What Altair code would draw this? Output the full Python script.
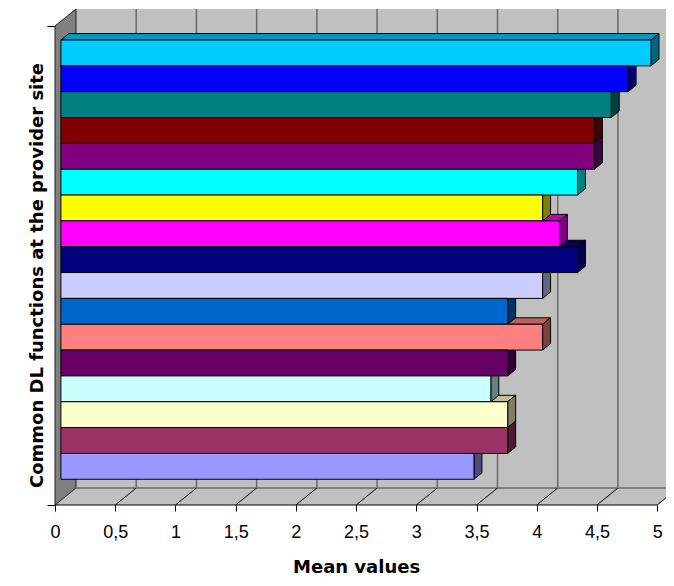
import altair as alt
import pandas as pd

# ---- data ----
categories = [f"Function {i}" for i in range(1, 18)]
values = [4.90, 4.71, 4.57, 4.43, 4.43, 4.29, 4.00, 4.14, 4.29,
          4.00, 3.71, 4.00, 3.71, 3.57, 3.71, 3.71, 3.43]
colors = ["#00CCFF", "#0000FF", "#008080", "#800000", "#800080", "#00FFFF",
          "#FFFF00", "#FF00FF", "#000080", "#CCCCFF", "#0066CC", "#FF8080",
          "#660066", "#CCFFFF", "#FFFFCC", "#993366", "#9999FF"]
x_ticks = [0, 0.5, 1, 1.5, 2, 2.5, 3, 3.5, 4, 4.5, 5]
x_title = "Mean values"
y_title = "Common DL functions at the provider site"

# ---- layout / 3D style constants ----
W, H = 611, 496
PX = 120.43              # px per value unit
XMAX = W / PX
DX = 21 / PX             # full depth offset (value units)
DY = 17                  # full depth offset (pixels, y units)
D1, D2 = 0.28, 0.66      # bar depth (front, back)
TOP = 465                # top of first bar (front face), y units
RH = 25.84               # row height
FRONT_TOP = H - DY


def shade(hx, f):
    return "#%02x%02x%02x" % tuple(int(int(hx[i:i + 2], 16) * f) for i in (1, 3, 5))


xs = alt.Scale(domain=[0, XMAX], nice=False, zero=False)
ys = alt.Scale(domain=[0, H], nice=False, zero=False)

# bars
rows, tops, sides = [], [], []
for i, (c, v, col) in enumerate(zip(categories, values, colors)):
    yt = TOP - i * RH
    yb = yt - RH
    rows.append(dict(cat=c, x0=D1 * DX, x1=v + D1 * DX, yt=yt, yb=yb, fill=col))
    for d in (D1, D2):
        off = (d - D1) * DY
        tops.append(dict(cat=c, y=yt + off, xl=d * DX, xr=v + d * DX, fill=shade(col, 0.75)))
        sides.append(dict(cat=c, x=v + d * DX, yt=yt + off, yb=yb + off, fill=shade(col, 0.5)))
bars = pd.DataFrame(rows)
top_df = pd.DataFrame(tops)
side_df = pd.DataFrame(sides)

# walls
back = pd.DataFrame({"x": [DX], "x2": [5 + DX + 0.2], "y": [DY], "y2": [H]})
back_layer = alt.Chart(back).mark_rect(fill="#C0C0C0").encode(
    x=alt.X("x:Q", scale=xs, axis=alt.Axis(
        values=x_ticks,
        labelExpr="replace(format(datum.value, '~g'), '.', ',')",
        tickSize=6, tickColor="black", tickWidth=1, domain=False, grid=False,
        labelFont="Liberation Sans", labelFontSize=18, labelColor="black",
        labelPadding=12, labelFlush=False, labelOverlap=False,
        title=x_title, titleFont="DejaVu Sans", titleFontSize=18,
        titleFontWeight="bold", titleColor="black", titleX=5 / 2 * PX,
        titleY=67, titleAlign="center", titleBaseline="alphabetic")),
    x2="x2:Q",
    y=alt.Y("y:Q", scale=ys, axis=alt.Axis(
        values=[0, FRONT_TOP], labels=False, tickSize=8, tickColor="black",
        tickWidth=1, domain=False, grid=False,
        title=y_title, titleFont="DejaVu Sans", titleFontSize=18,
        titleFontWeight="bold", titleColor="black", titleAngle=270,
        titleX=-13, titleY=266, titleAlign="center", titleBaseline="alphabetic")),
    y2="y2:Q",
)

floor = pd.DataFrame({"y": [0, DY], "xl": [0, DX], "xr": [5, 5 + DX]})
floor_layer = alt.Chart(floor).mark_area(orient="horizontal", fill="#C0C0C0").encode(
    y=alt.Y("y:Q", scale=ys),
    x=alt.X("xl:Q", scale=xs),
    x2="xr:Q",
)

left = pd.DataFrame({"x": [0, DX], "yt": [FRONT_TOP, H], "yb": [0, DY]})
left_layer = alt.Chart(left).mark_area(
    orient="vertical", fill="#808080", stroke="#202020", strokeWidth=1).encode(
    x=alt.X("x:Q", scale=xs),
    y=alt.Y("yt:Q", scale=ys),
    y2="yb:Q",
)

grid = pd.DataFrame({"x": [g + DX for g in x_ticks[1:]], "y": DY, "y2": H})
grid_layer = alt.Chart(grid).mark_rule(color="#6A6A6A", strokeWidth=1.5).encode(
    x=alt.X("x:Q", scale=xs),
    y=alt.Y("y:Q", scale=ys),
    y2="y2:Q",
)

back_edge = pd.DataFrame({"x": [DX], "x2": [5 + DX + 0.2], "y": [DY]})
back_edge_layer = alt.Chart(back_edge).mark_rule(color="#808080", strokeWidth=2).encode(
    x=alt.X("x:Q", scale=xs), x2="x2:Q",
    y=alt.Y("y:Q", scale=ys),
)

diag = pd.DataFrame({"x": x_ticks[1:], "x2": [g + DX for g in x_ticks[1:]],
                     "y": 0, "y2": DY})
diag_layer = alt.Chart(diag).mark_rule(color="black", strokeWidth=1).encode(
    x=alt.X("x:Q", scale=xs), x2="x2:Q",
    y=alt.Y("y:Q", scale=ys), y2="y2:Q",
)

front_edge = pd.DataFrame({"x": [0], "x2": [5], "y": [0]})
front_edge_layer = alt.Chart(front_edge).mark_rule(color="black", strokeWidth=1).encode(
    x=alt.X("x:Q", scale=xs), x2="x2:Q",
    y=alt.Y("y:Q", scale=ys),
)

top_layer = alt.Chart(top_df).mark_area(
    orient="horizontal", stroke="black", strokeWidth=1).encode(
    y=alt.Y("y:Q", scale=ys),
    x=alt.X("xl:Q", scale=xs),
    x2="xr:Q",
    detail="cat:N",
    fill=alt.Fill("fill:N", scale=None),
)

side_layer = alt.Chart(side_df).mark_area(
    orient="vertical", stroke="black", strokeWidth=1).encode(
    x=alt.X("x:Q", scale=xs),
    y=alt.Y("yt:Q", scale=ys),
    y2="yb:Q",
    detail="cat:N",
    fill=alt.Fill("fill:N", scale=None),
)

front_layer = alt.Chart(bars).mark_rect(stroke="black", strokeWidth=1).encode(
    x=alt.X("x0:Q", scale=xs), x2="x1:Q",
    y=alt.Y("yb:Q", scale=ys), y2="yt:Q",
    fill=alt.Fill("fill:N", scale=None),
)

chart = alt.layer(
    back_layer, floor_layer, left_layer, grid_layer, back_edge_layer,
    diag_layer, front_edge_layer, top_layer, side_layer, front_layer,
).properties(
    width=W, height=H,
    padding={"left": 47, "top": 1, "right": 0, "bottom": 73},
    autosize=alt.AutoSizeParams(type="none"),
).configure_view(stroke=None)

chart.save("out.html", embed_options={"renderer": "svg", "actions": False})
